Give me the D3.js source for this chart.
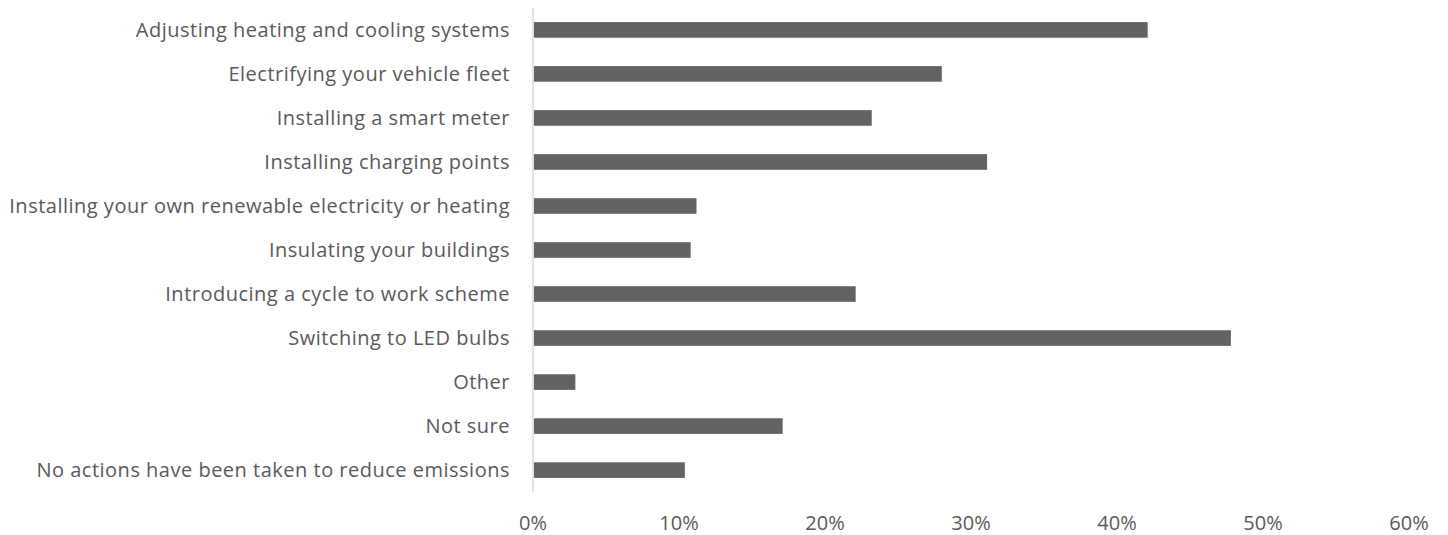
<!DOCTYPE html>
<html>
<head>
<meta charset="utf-8">
<script src="https://cdn.jsdelivr.net/npm/d3@7"></script>
<style>
  body { margin: 0; background: #fff; }
  text { font-family: "Open Sans", sans-serif; fill: #595959; }
</style>
</head>
<body>
<div id="chart"></div>
<script>
const categories = [
    "Adjusting heating and cooling systems",
    "Electrifying your vehicle fleet",
    "Installing a smart meter",
    "Installing charging points",
    "Installing your own renewable electricity or heating",
    "Insulating your buildings",
    "Introducing a cycle to work scheme",
    "Switching to LED bulbs",
    "Other",
    "Not sure",
    "No actions have been taken to reduce emissions"
];
const values = [0.421, 0.280, 0.232, 0.311, 0.112, 0.108, 0.221, 0.478, 0.029, 0.171, 0.104];
const ticks = [0, 0.1, 0.2, 0.3, 0.4, 0.5, 0.6];

var width = 1448, height = 535;
var margin = { top: 8, right: 39, bottom: 43, left: 533 };

var x = d3.scaleLinear().domain([0, 0.6]).range([margin.left, width - margin.right]);
var y = d3.scaleBand().domain(categories).range([margin.top, height - margin.bottom]).paddingInner(0.645).paddingOuter(0.32);

var svg = d3.select("#chart").append("svg")
    .attr("width", width)
    .attr("height", height);

svg.selectAll("rect.bar")
    .data(values)
    .enter().append("rect")
    .attr("class", "bar")
    .attr("x", x(0) + 1)
    .attr("y", (d, i) => y(categories[i]))
    .attr("width", d => x(d) - x(0) - 1)
    .attr("height", y.bandwidth())
    .style("fill", "#636363");

// vertical axis line
svg.append("line")
    .attr("x1", x(0)).attr("x2", x(0))
    .attr("y1", margin.top).attr("y2", height - margin.bottom)
    .style("stroke", "#d9d9d9")
    .style("stroke-width", 1.5);

svg.selectAll("text.cat")
    .data(categories)
    .enter().append("text")
    .attr("class", "cat")
    .attr("x", 510)
    .attr("y", d => y(d) + y.bandwidth() / 2)
    .attr("dy", "0.35em")
    .attr("text-anchor", "end")
    .style("font-size", "20px")
    .style("letter-spacing", "0.5px")
    .text(d => d);

svg.selectAll("text.tick")
    .data(ticks)
    .enter().append("text")
    .attr("class", "tick")
    .attr("x", d => x(d))
    .attr("y", 523)
    .attr("dy", "0.35em")
    .attr("text-anchor", "middle")
    .style("font-size", "20px")
    .text(d => d3.format(".0%")(d));
</script>
</body>
</html>
